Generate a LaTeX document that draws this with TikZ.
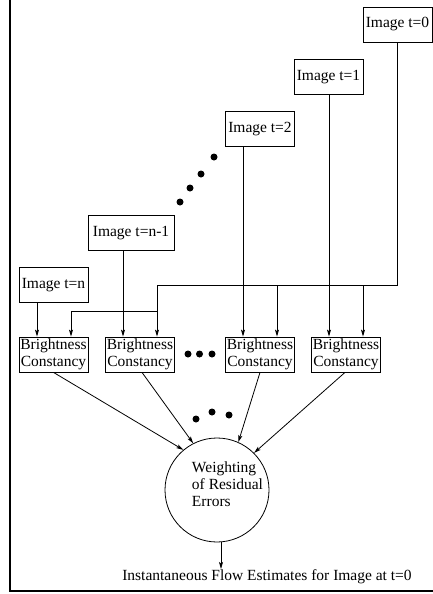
\documentclass[tikz,border=0pt]{standalone}
\usepackage{fontspec}
\setmainfont{Liberation Serif}
\usetikzlibrary{arrows.meta,shapes.geometric}
\begin{document}
\begin{tikzpicture}[x=1pt,y=-1pt,
  every node/.style={font=\fontsize{15.5}{17}\selectfont},
  imgbox/.style={draw, line width=0.8pt, minimum width=69pt, minimum height=35pt, inner sep=1pt},
  bcbox/.style={draw, line width=0.8pt, minimum width=69pt, minimum height=35pt, inner sep=1pt, align=center},
  conn/.style={line width=0.8pt},
  arr/.style={line width=0.8pt, -{Stealth[length=7pt,width=4pt,inset=1.5pt]}},
  dot/.style={circle, fill, inner sep=0pt, minimum size=7pt},
  frame/.style={line width=2pt}]
\useasboundingbox (0,0) rectangle (433,594);
% frame
\coordinate (ftop) at (10,0);
\coordinate (fcorner) at (10,591);
\coordinate (fright) at (433,591);
\draw[frame] (ftop) -- (fcorner) -- (fright);
% image boxes
\node[imgbox] (I0) at (397.5,24.5) {Image t=0};
\node[imgbox] (I1) at (328.5,77) {Image t=1};
\node[imgbox] (I2) at (260,129) {Image t=2};
\node[imgbox, minimum width=86pt] (In1) at (131,233) {Image t=n-1};
\node[imgbox] (In) at (53.5,285) {Image t=n};
% brightness boxes
\node[bcbox] (B1) at (53.5,354.5) {Brightness\\Constancy};
\node[bcbox] (B2) at (140,354.5) {Brightness\\Constancy};
\node[bcbox] (B3) at (260,354.5) {Brightness\\Constancy};
\node[bcbox] (B4) at (346,354.5) {Brightness\\Constancy};
% weighting
\node[draw, circle, line width=0.8pt, minimum size=104pt, inner sep=0pt] (W) at (217,490) {};
\node[align=left, inner sep=0pt] (Wt) at (227.5,484) {Weighting\\of Residual\\Errors};
\node[anchor=north, inner sep=0pt] (out) at (267,569) {Instantaneous Flow Estimates for Image at t=0};
% dots
\node[dot] (da) at (214,157) {};
\node[dot] (db) at (201,174) {};
\node[dot] (dc) at (190,188) {};
\node[dot] (dd) at (180,202) {};
\node[dot] (de) at (188,354) {};
\node[dot] (df) at (199.5,354) {};
\node[dot] (dg) at (212,354) {};
\node[dot] (dh) at (196,419) {};
\node[dot] (di) at (212,412) {};
\node[dot] (dj) at (229,415) {};
% connectors from image t=0
\coordinate (j1) at (157,285);
\coordinate (j2) at (157,311);
\coordinate (k1) at (71,311);
\coordinate (t3) at (277,285);
\coordinate (t4) at (363,285);
\draw[conn] (I0.south) -- (I0.south |- j1) -- (j1) -- (j2);
\draw[arr] (j2) -- (k1) -- (k1 |- B1.north);
\draw[arr] (j2) -- (j2 |- B2.north);
\draw[arr] (t3) -- (t3 |- B3.north);
\draw[arr] (t4) -- (t4 |- B4.north);
% vertical connectors
\draw[arr] ([xshift=-16.5]In.south) -- ([xshift=-16.5]B1.north);
\draw[arr] ([xshift=-8]In1.south) -- ([xshift=-17]B2.north);
\draw[arr] ([xshift=-17]I2.south) -- ([xshift=-17]B3.north);
\draw[arr] ([xshift=0.5]I1.south) -- ([xshift=-17]B4.north);
% to weighting
\draw[arr] (B1.south) -- (W.130);
\draw[arr] ([xshift=2]B2.south) -- (W.117);
\draw[arr] (B3.south) -- (W.66);
\draw[arr] ([xshift=-1]B4.south) -- (W.45);
\draw[arr] ([xshift=4]W.south) -- ([xshift=-46]out.north);
\end{tikzpicture}
\end{document}
